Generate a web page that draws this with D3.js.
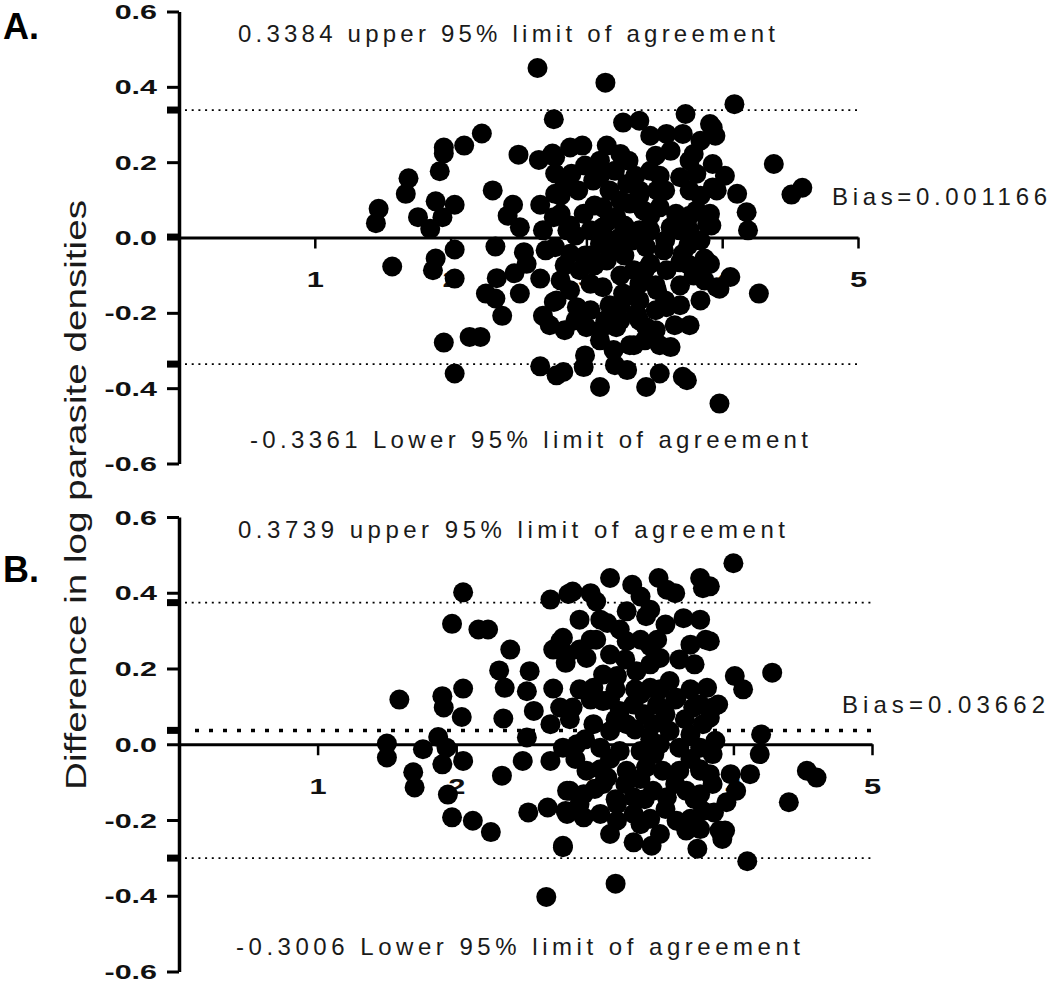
<!DOCTYPE html>
<html><head><meta charset="utf-8">
<script src="https://cdn.jsdelivr.net/npm/d3@7"></script>
<style>html,body{margin:0;padding:0;background:#fff} svg{display:block}</style>
</head><body>
<svg id="chart" width="1050" height="983"></svg>
<script>
const xTicks = [1, 2, 3, 4, 5];
const xTickLabels = ["1", "2", "3", "4", "5"];
const yTicks = [-0.6, -0.4, -0.2, 0, 0.2, 0.4, 0.6];
const yTickLabels = ["-0.6", "-0.4", "-0.2", "0.0", "0.2", "0.4", "0.6"];
const panelLabels = ["A.", "B."];
const yAxisTitle = "Difference in log parasite densities";
const biasA = 0.001166, upperA = 0.3384, lowerA = -0.3361;
const biasB = 0.03662, upperB = 0.3739, lowerB = -0.3006;

// [mean of log densities, difference]
const pointsA = [
[2.64,0.450],[2.76,0.314],[2.23,0.276],[2.10,0.244],[1.95,0.239],[1.95,0.223],[2.50,0.220],[2.65,0.206],[2.75,0.223],[2.77,0.170],
[1.92,0.176],[1.69,0.157],[1.67,0.116],[2.31,0.125],[1.47,0.076],[1.45,0.038],[1.89,0.096],[2.03,0.087],[1.76,0.054],[1.94,0.054],
[1.85,0.023],[2.46,0.087],[2.42,0.058],[2.51,0.027],[2.66,0.087],[2.68,0.019],[2.76,0.054],[2.03,-0.032],[2.33,-0.024],[1.57,-0.077],
[1.89,-0.056],[1.87,-0.087],[2.03,-0.109],[2.34,-0.108],[2.54,-0.039],[2.56,-0.070],[2.47,-0.095],[2.66,-0.109],[2.70,-0.034],[2.26,-0.149],
[2.33,-0.162],[2.51,-0.149],[2.38,-0.208],[2.76,-0.171],[2.68,-0.208],[2.73,-0.233],[1.95,-0.279],[2.14,-0.264],[2.22,-0.264],[2.66,-0.342],
[2.03,-0.361],[2.78,-0.366],
[3.14,0.411],[3.27,0.305],[3.39,0.310],[3.73,0.328],[3.91,0.301],[3.59,0.275],[3.71,0.275],[2.88,0.239],[3.15,0.244],[3.79,0.222],
[3.93,0.195],[2.77,0.213],[3.10,0.204],[3.25,0.222],[3.62,0.230],[2.89,0.169],[3.05,0.151],[2.94,0.125],[3.47,0.177],[3.69,0.160],
[3.81,0.169],[3.93,0.133],[3.17,0.125],[3.30,0.142],[3.52,0.125],[3.76,0.125],[2.77,0.116],[2.81,0.063],[2.98,0.063],[3.12,0.080],
[3.22,0.054],[3.42,0.072],[3.54,0.080],[3.66,0.063],[3.81,0.072],[3.89,0.036],[3.12,0.027],[3.25,0.001],[3.47,0.019],[3.62,0.027],
[3.76,0.019],[2.77,-0.026],[2.88,-0.043],[3.10,-0.017],[3.22,-0.034],[3.44,-0.026],[3.57,-0.034],[3.71,-0.043],[3.87,-0.056],[2.95,-0.087],
[3.15,-0.061],[3.35,-0.087],[3.47,-0.070],[3.59,-0.087],[3.79,-0.101],[3.96,-0.132],[3.03,-0.123],[3.12,-0.132],[3.27,-0.149],[3.39,-0.123],
[3.52,-0.140],[3.59,-0.185],[2.78,-0.167],[2.93,-0.185],[3.37,-0.202],[3.44,-0.238],[3.76,-0.233],[3.00,-0.238],[3.10,-0.273],[3.22,-0.238],
[3.20,-0.299],[3.35,-0.286],[3.62,-0.291],[2.83,-0.357],[2.98,-0.344],[3.10,-0.397],[3.30,-0.352],[3.44,-0.397],[3.54,-0.361],[3.74,-0.379],
[3.71,-0.370],[3.98,-0.441],
[4.09,0.354],[3.93,0.292],[3.95,0.270],[4.02,0.164],[3.96,0.125],[4.11,0.116],[4.38,0.195],[4.51,0.114],[4.59,0.132],[4.18,0.067],
[4.19,0.019],[3.91,0.063],[3.92,0.032],[3.91,-0.070],[4.06,-0.105],[3.98,-0.136],[4.27,-0.149],
[3.32,0.090],[3.03,0.019],[2.99,-0.048],[3.34,-0.008],[3.69,-0.066],[3.17,-0.180],[3.39,-0.167],[2.88,0.032],[3.36,0.164],[3.58,0.125],
[2.84,0.138],[2.99,0.191],[3.21,0.177],[3.39,0.125],[3.54,0.164],[3.84,0.111],[2.92,0.005],[3.06,0.085],[3.17,0.045],[3.28,0.032],
[3.47,0.058],[3.58,-0.008],[3.76,0.058],[3.84,-0.008],[2.84,-0.074],[3.06,-0.074],[3.25,-0.101],[3.43,-0.087],[3.69,-0.127],[3.84,-0.167],
[2.88,-0.140],[3.32,-0.154],[3.51,-0.193],[3.25,-0.220],[3.69,-0.180],[3.84,-0.087],[3.03,-0.193],[2.84,-0.246],[3.43,-0.273],[2.97,0.244],
[3.51,0.217],
[2.81,0.111],[3.10,0.164],[3.31,0.204],[3.76,0.204],[3.47,0.270],[3.84,0.257],[2.86,0.019],[3.19,-0.008],[3.39,0.019],[3.69,0.019],
[2.81,-0.114],[3.03,-0.048],[3.28,-0.048],[3.51,-0.127],[3.76,-0.074],[2.92,-0.220],[3.14,-0.220],[3.39,-0.220],[3.65,-0.233],[3.25,-0.180],
[3.54,-0.286],[2.99,-0.313],[3.21,-0.339],
[3.39,0.111],[3.75,-0.021],[3.51,-0.246],[3.10,-0.246],[3.25,0.098],[3.87,-0.114],[3.58,-0.167],[3.32,-0.286]
];

const pointsB = [
[2.05,0.401],[2.68,0.382],[2.81,0.397],[1.97,0.318],[2.16,0.303],[2.23,0.303],[2.39,0.250],[2.75,0.272],[2.70,0.250],[2.79,0.215],
[2.31,0.195],[2.53,0.193],[2.35,0.149],[2.51,0.140],[2.70,0.147],[1.59,0.118],[1.90,0.127],[1.91,0.097],[2.05,0.147],[2.04,0.072],
[2.34,0.068],[2.56,0.088],[2.75,0.097],[2.68,0.053],[1.50,0.002],[1.50,-0.035],[1.76,-0.013],[1.87,0.019],[1.93,-0.009],[1.90,-0.053],
[2.05,-0.044],[2.51,0.018],[2.48,-0.044],[2.68,-0.044],[2.77,-0.009],[1.69,-0.074],[1.70,-0.114],[2.33,-0.083],[1.94,-0.133],[1.97,-0.193],
[2.12,-0.202],[2.25,-0.232],[2.52,-0.180],[2.66,-0.167],[2.80,-0.123],[2.79,-0.176],[2.77,-0.272],[2.65,-0.403],
[3.11,0.439],[3.27,0.421],[3.46,0.439],[3.76,0.439],[3.78,0.412],[2.84,0.403],[2.97,0.399],[3.01,0.377],[3.33,0.390],[3.52,0.408],
[3.58,0.399],[3.64,0.333],[3.23,0.351],[3.37,0.338],[3.09,0.320],[3.18,0.303],[3.01,0.276],[3.23,0.272],[3.45,0.276],[3.40,0.259],
[3.80,0.276],[2.77,0.281],[2.80,0.237],[2.94,0.228],[3.06,0.184],[3.16,0.180],[3.30,0.193],[3.47,0.228],[3.61,0.224],[2.99,0.149],
[3.40,0.149],[3.54,0.167],[3.81,0.149],[2.84,0.097],[3.06,0.114],[3.18,0.088],[3.28,0.105],[3.45,0.105],[3.59,0.123],[3.71,0.097],
[3.85,0.097],[2.99,0.053],[3.11,0.035],[3.23,0.053],[3.42,0.053],[3.54,0.035],[3.78,0.053],[2.87,0.000],[3.04,-0.009],[3.18,-0.018],
[3.33,-0.018],[3.47,0.000],[3.61,-0.009],[3.76,-0.009],[3.85,-0.026],[2.94,-0.070],[3.09,-0.088],[3.23,-0.070],[3.37,-0.061],[3.49,-0.070],
[3.61,-0.070],[3.76,-0.070],[3.85,-0.105],[2.82,-0.123],[2.92,-0.132],[3.06,-0.105],[3.16,-0.158],[3.28,-0.140],[3.42,-0.123],[3.52,-0.140],
[3.66,-0.123],[3.78,-0.176],[2.80,-0.184],[2.92,-0.193],[3.16,-0.202],[3.28,-0.184],[3.59,-0.202],[3.66,-0.228],[3.90,-0.228],[2.77,-0.268],
[3.28,-0.259],[3.41,-0.268],[3.74,-0.276],[3.15,-0.368],
[4.00,0.478],[3.83,0.417],[3.83,0.272],[4.01,0.180],[4.07,0.145],[4.28,0.189],[3.89,0.105],[3.83,0.070],[3.87,0.009],[4.20,0.026],
[4.19,-0.026],[4.12,-0.079],[3.98,-0.079],[4.02,-0.123],[3.95,-0.153],[3.86,-0.180],[3.94,-0.228],[3.92,-0.250],[4.53,-0.070],[4.60,-0.088],
[4.40,-0.153],[4.10,-0.309],
[2.89,0.329],[3.11,0.237],[3.33,0.276],[3.51,0.316],[3.69,0.263],[2.97,0.118],[3.15,0.145],[3.33,0.132],[3.51,0.079],[3.69,0.145],
[3.76,0.105],[2.93,0.013],[3.11,-0.039],[3.29,0.039],[3.43,-0.026],[3.69,0.026],[3.00,-0.118],[3.22,-0.105],[3.36,-0.145],[3.58,-0.105],
[3.72,-0.145],[3.04,-0.184],[3.40,-0.197],[3.76,-0.224],[3.47,-0.237],[2.86,-0.039],
[2.89,0.250],[3.04,0.329],[3.40,0.355],[3.76,0.329],[3.22,0.224],[3.72,0.211],[3.40,0.211],[2.89,0.145],[3.47,0.145],[3.15,0.066],
[3.36,0.079],[3.65,0.066],[3.04,-0.066],[3.33,-0.092],[3.69,-0.039],[3.83,-0.079],[2.89,-0.158],[3.15,-0.145],[3.51,-0.171],[3.76,-0.132],
[3.33,-0.211],[3.11,-0.237],
[3.11,0.118],[2.82,0.066],[3.40,0.013],[3.76,-0.066],[3.69,-0.197],[2.97,0.276],[3.29,0.145],[3.58,0.118]
];

const svg = d3.select("#chart");
const FONT = "'Liberation Sans', Arial, Helvetica, sans-serif";

function stretch(sel, factor) {
  sel.each(function () {
    const w = this.getComputedTextLength();
    this.setAttribute("textLength", w * factor);
    this.setAttribute("lengthAdjust", "spacingAndGlyphs");
  });
}

function drawPanel(cfg) {
  const x = d3.scaleLinear().domain([0, 5]).range(cfg.xr);
  const y = d3.scaleLinear().domain([-0.6, 0.6]).range(cfg.yr);
  const g = svg.append("g");

  [cfg.upper, cfg.lower].forEach(v => {
    g.append("line").attr("x1", cfg.xr[0] + 6).attr("x2", cfg.xr[1])
      .attr("y1", y(v)).attr("y2", y(v))
      .attr("stroke", "#000").attr("stroke-width", 1.8).attr("stroke-dasharray", "2,4.7");
  });
  if (cfg.showBias) {
    g.append("line").attr("x1", cfg.xr[0] + 16).attr("x2", cfg.xr[1])
      .attr("y1", y(cfg.bias)).attr("y2", y(cfg.bias))
      .attr("stroke", "#000").attr("stroke-width", 3.5).attr("stroke-dasharray", "4,10");
  }

  const ya = g.append("g").attr("transform", `translate(${cfg.xr[0]},0)`)
    .call(d3.axisLeft(y).tickValues(yTicks)
      .tickFormat(d => yTickLabels[yTicks.indexOf(d)])
      .tickSize(12).tickPadding(10).tickSizeOuter(0));
  ya.select(".domain").attr("stroke", "#000").attr("stroke-width", 3.5);
  ya.selectAll(".tick line").attr("stroke", "#000").attr("stroke-width", 3);
  ya.selectAll(".tick text").attr("font-family", FONT).attr("font-size", 21)
    .attr("font-weight", "bold").attr("fill", "#111").attr("dy", "0.34em")
    .call(stretch, 1.45);

  [cfg.upper, cfg.bias, cfg.lower].forEach(v => {
    g.append("rect").attr("x", cfg.xr[0] - 12).attr("width", 12)
      .attr("y", y(v) - 3.5).attr("height", 7).attr("fill", "#000");
  });

  const xa = g.append("g").attr("transform", `translate(0,${y(0)})`)
    .call(d3.axisBottom(x).tickValues(xTicks)
      .tickFormat(d => xTickLabels[xTicks.indexOf(d)])
      .tickSize(11).tickPadding(23).tickSizeOuter(0));
  xa.select(".domain").attr("stroke", "#000").attr("stroke-width", 3);
  xa.selectAll(".tick line").attr("stroke", "#000").attr("stroke-width", 2.5);
  xa.selectAll(".tick text").attr("font-family", FONT).attr("font-size", 22)
    .attr("font-weight", "bold").attr("fill", "#111")
    .call(stretch, 1.4);

  g.append("g").selectAll("circle").data(cfg.points).join("circle")
    .attr("cx", d => x(d[0])).attr("cy", d => y(d[1])).attr("r", 10)
    .attr("fill", "#000");

  const ann = [
    { t: `${cfg.upper} upper 95% limit of agreement`, x: cfg.upX, y: cfg.upY, w: cfg.upW },
    { t: `${cfg.lower} Lower 95% limit of agreement`, x: cfg.loX, y: cfg.loY, w: cfg.loW },
    { t: `Bias=${cfg.bias}`, x: cfg.bX, y: cfg.bY, w: cfg.bW }
  ];
  ann.forEach(a => {
    g.append("text").attr("x", a.x).attr("y", a.y).text(a.t)
      .attr("font-family", FONT).attr("font-size", 24).attr("fill", "#1a1a1a")
      .attr("textLength", a.w).attr("lengthAdjust", "spacing");
  });

  svg.append("text").attr("x", 3).attr("y", cfg.labY).text(cfg.label)
    .attr("font-family", FONT).attr("font-size", 36).attr("font-weight", "bold").attr("fill", "#000");
}

drawPanel({
  xr: [179, 858], yr: [463.5, 11.5], points: pointsA,
  bias: biasA, upper: upperA, lower: lowerA, showBias: false,
  upX: 238, upY: 42, upW: 537,
  loX: 250, loY: 448, loW: 558,
  bX: 832, bY: 205, bW: 215,
  label: panelLabels[0], labY: 39
});
drawPanel({
  xr: [179, 872], yr: [971.5, 517], points: pointsB,
  bias: biasB, upper: upperB, lower: lowerB, showBias: true,
  upX: 238, upY: 538, upW: 547,
  loX: 236, loY: 955, loW: 564,
  bX: 842, bY: 713, bW: 203,
  label: panelLabels[1], labY: 582
});

svg.append("text")
  .attr("transform", "translate(86,495) rotate(-90)")
  .attr("text-anchor", "middle")
  .attr("font-family", FONT).attr("font-size", 29).attr("fill", "#1a1a1a")
  .attr("textLength", 590).attr("lengthAdjust", "spacingAndGlyphs")
  .text(yAxisTitle);
</script>
</body></html>
